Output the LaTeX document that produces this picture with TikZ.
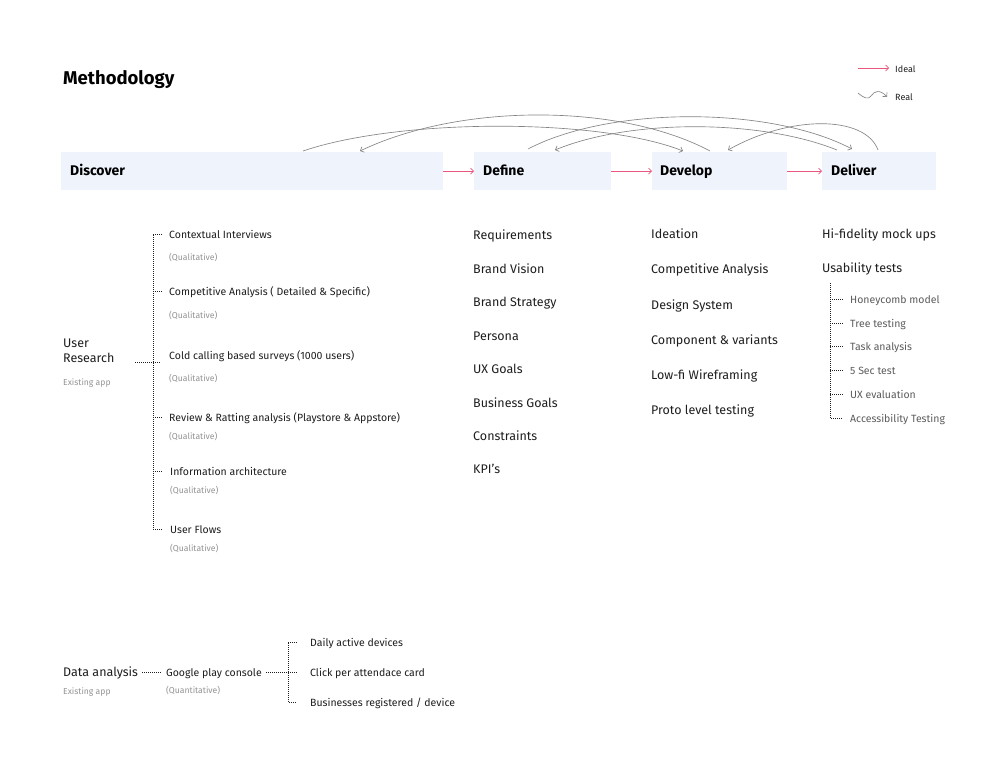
\documentclass[tikz,border=0pt]{standalone}
\usepackage{fontspec}
\setmainfont{Fira Sans}
\usetikzlibrary{arrows.meta}

\definecolor{MYpink}{HTML}{E8577D}
\definecolor{MYbox}{HTML}{EEF3FC}
\definecolor{MYcurve}{HTML}{858585}
\definecolor{MYtext}{HTML}{1E1E1E}
\definecolor{MYnote}{HTML}{939393}
\definecolor{MYsub}{HTML}{5C5C5C}

\newcommand\MYboxtop{152}
\newcommand\MYboxheight{38}
\newcommand\MYsize[1]{\fontsize{#1}{#1}\selectfont}

\tikzset{
 txt/.style={anchor=west, inner sep=0pt, text height=0.95em, text depth=0pt},
 phase/.style={fill=MYbox, draw=none, minimum height=\MYboxheight pt, anchor=north west, inner sep=0pt},
 phasename/.style={txt, font=\MYsize{14}\bfseries, text=black},
 ideal/.style={MYpink, line width=0.7pt, -{Straight Barb[length=3pt,width=6pt]}},
 real/.style={MYcurve, line width=0.65pt, -{Straight Barb[length=3pt,width=6pt]}},
 item/.style={txt, font=\fontsize{12.5}{14.5}\selectfont, text=MYtext},
 subitem/.style={txt, font=\MYsize{10.5}, text=MYtext},
 note/.style={txt, font=\MYsize{8.6}, text=MYnote},
 dots/.style={MYtext, line width=0.75pt, dash pattern=on 0.75pt off 1.25pt},
 tick/.style={dots, shorten >=7pt},
}

\begin{document}
\begin{tikzpicture}[x=1pt, y=-1pt]
\useasboundingbox[fill=white] (0,0) rectangle (1000,782);

\node[txt, font=\MYsize{18.5}\bfseries] (Title) at (63,80) {Methodology};

% legend
\coordinate (IdealA) at (858,68);
\coordinate (IdealB) at (889,68);
\coordinate (RealA) at (858,93);
\coordinate (RealB) at (887,97);
\draw[ideal] (IdealA) -- (IdealB);
\draw[real] (RealA) .. controls (864,98) and (868,100) .. (871,96) .. controls (874,91) and (880,89) .. (RealB);
\node[subitem, font=\MYsize{9}] (Ideal) at (895,68) {Ideal};
\node[subitem, font=\MYsize{9}] (Real) at (895,96) {Real};

% phases
\node[phase, minimum width=382pt] (Discover) at (61,\MYboxtop) {};
\node[phase, minimum width=137pt] (Define) at (474,\MYboxtop) {};
\node[phase, minimum width=135pt] (Develop) at (652,\MYboxtop) {};
\node[phase, minimum width=114pt] (Deliver) at (822,\MYboxtop) {};
\node[phasename] (DiscoverName) at ([xshift=9pt]Discover.west) {Discover};
\node[phasename] (DefineName) at ([xshift=9pt]Define.west) {Define};
\node[phasename] (DevelopName) at ([xshift=8pt]Develop.west) {Develop};
\node[phasename] (DeliverName) at ([xshift=9pt]Deliver.west) {Deliver};

\draw[ideal] (Discover.east) -- (Define.west);
\draw[ideal] (Define.east) -- (Develop.west);
\draw[ideal] (Develop.east) -- (Deliver.west);

\coordinate (DiscOut) at (303,151);
\coordinate (DiscIn) at (360,151);
\coordinate (DefOut) at (528,149);
\coordinate (DefIn) at (555,150);
\coordinate (DevIn) at (683,151);
\coordinate (DevOut) at (710,151);
\coordinate (DevInB) at (728,150);
\coordinate (DelIn) at (852,149);
\coordinate (DelOut) at (837,150);
\coordinate (DelOutB) at (878,150);

\draw[real] (DiscOut) .. controls (400,118) and (600,118) .. (DevIn);
\draw[real] (DevOut) .. controls (620,103) and (460,103) .. (DiscIn);
\draw[real] (DefOut) .. controls (610,106) and (770,106) .. (DelIn);
\draw[real] (DelOut) .. controls (760,119) and (630,119) .. (DefIn);
\draw[real] (DelOutB) .. controls (865,115) and (790,115) .. (DevInB);

% discover
\node[item, align=left, text height=, text depth=] (UserResearch) at (63,351) {User\\Research};
\node[note] (URnote) at (63,381) {Existing app};

\node[subitem] (CI) at (169,234) {Contextual Interviews};
\node[note] (CInote) at (169,256) {(Qualitative)};
\node[subitem] (CA) at (169,291) {Competitive Analysis ( Detailed \& Specific)};
\node[note] (CAnote) at (169,314) {(Qualitative)};
\node[subitem] (CC) at (169,355) {Cold calling based surveys (1000 users)};
\node[note] (CCnote) at (169,377) {(Qualitative)};
\node[subitem] (RR) at (169,417) {Review \& Ratting analysis (Playstore \& Appstore)};
\node[note] (RRnote) at (169,435) {(Qualitative)};
\node[subitem] (IA) at (170,471) {Information architecture};
\node[note] (IAnote) at (170,489) {(Qualitative)};
\node[subitem] (UF) at (170,529) {User Flows};
\node[note] (UFnote) at (170,547) {(Qualitative)};

\coordinate (URspine) at (153,362);
\coordinate (URout) at (135,362);
\draw[dots] ([xshift=-7pt]CI.west) -| (URspine) |- ([xshift=-7pt]UF.west);
\foreach \n in {CA,RR,IA}
  \draw[tick] (URspine |- \n.west) -- (\n.west);
\draw[dots] (URout) -- ([xshift=-8pt]CC.west |- URspine);

% define
\foreach \name/\y/\txt in {Req/235/Requirements, BV/269/Brand Vision, BS/302/Brand Strategy,
  Per/336/Persona, UXG/369/UX Goals, BG/403/Business Goals, Con/436/Constraints, KPI/469/KPI’s}
  \node[item] (\name) at (473,\y) {\txt};

% develop
\foreach \name/\y/\txt in {Ide/234/Ideation, CAn/269/Competitive Analysis, DS/305/Design System,
  CV/340/Component \& variants, LW/375/Low-fi Wireframing, PLT/410/Proto level testing}
  \node[item] (\name) at (651,\y) {\txt};

% deliver
\node[item] (HF) at (822,234) {Hi-fidelity mock ups};
\node[item] (UT) at (822,268) {Usability tests};
\foreach \name/\y/\txt in {HM/299/Honeycomb model, TT/323/Tree testing, TA/346/Task analysis,
  ST/370/5 Sec test, UXE/394/UX evaluation, AT/418/Accessibility Testing}
  \node[subitem, text=MYsub] (\name) at (850,\y) {\txt};

\coordinate (UTspine) at (830,283);
\draw[dots] (UTspine) |- ([xshift=-7pt]AT.west);
\foreach \n in {HM,TT,TA,ST,UXE}
  \draw[tick] (UTspine |- \n.west) -- (\n.west);

% data analysis
\node[item] (DataAnalysis) at (63,672) {Data analysis};
\node[note] (DAnote) at (63,690) {Existing app};
\node[subitem] (Console) at (166,672) {Google play console};
\node[note] (Cnote) at (166,689) {(Quantitative)};
\draw[dots] ([xshift=4pt]DataAnalysis.east) -- ([xshift=-4pt]Console.west);

\node[subitem] (DAD) at (310,642) {Daily active devices};
\node[subitem] (CPA) at (310,672) {Click per attendace card};
\node[subitem] (BRD) at (310,702) {Businesses registered / device};

\coordinate (DAspine) at (288,672);
\draw[dots] ([xshift=4pt]Console.east) -- (DAspine);
\draw[dots] ([xshift=-13pt]DAD.west) -| (DAspine) |- ([xshift=-13pt]BRD.west);
\draw[tick, shorten >=13pt] (DAspine) -- (CPA.west);

\end{tikzpicture}
\end{document}
